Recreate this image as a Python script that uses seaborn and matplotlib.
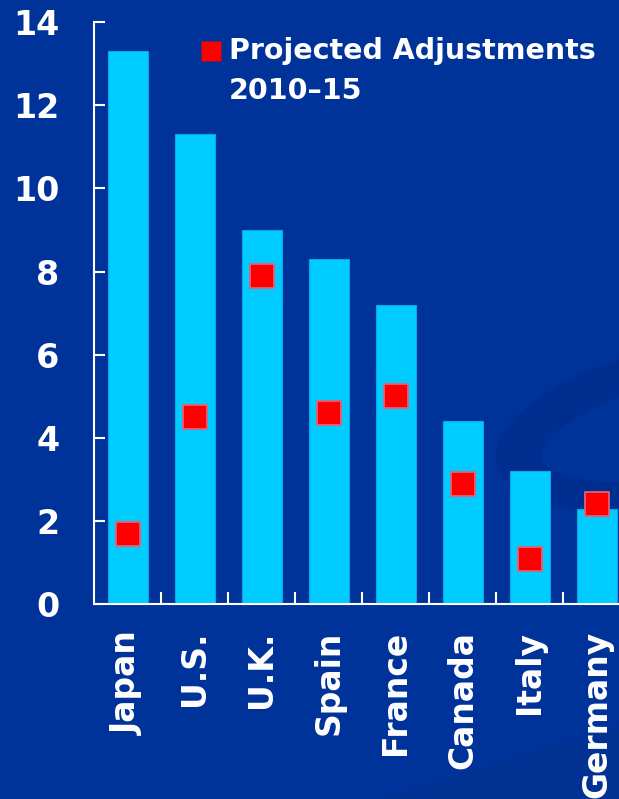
import numpy as np
import matplotlib
matplotlib.use("Agg")
import matplotlib.pyplot as plt
from matplotlib.lines import Line2D
from matplotlib.patches import Ellipse, Polygon
from matplotlib.transforms import IdentityTransform
import seaborn as sns

# Fiscal adjustment needed vs. projected adjustment, percent of GDP
countries = ["Japan", "U.S.", "U.K.", "Spain", "France", "Canada", "Italy", "Germany"]
required_adjustment = [13.3, 11.3, 9.0, 8.3, 7.2, 4.4, 3.2, 2.3]
projected_adjustments = [1.7, 4.5, 7.9, 4.6, 5.0, 2.9, 1.1, 2.4]
y_ticks = [0, 2, 4, 6, 8, 10, 12, 14]
legend_label = "Projected Adjustments\n2010–15"

BG = "#003399"
SWOOSH = "#002e90"
BAR = "#00CCFF"
BAR_EDGE = "#0aa6e6"
MARK = "#FF0000"

sns.set_theme(style="white")
plt.rcParams["font.family"] = ["DejaVu Sans"]
plt.rcParams["font.weight"] = "bold"

W, H = 619, 799
fig = plt.figure(figsize=(W / 100, H / 100), dpi=100, facecolor=BG)

# decorative background shapes (pixel coordinates, origin bottom-left)
outer = Ellipse((722, 378), 458, 172, angle=10, transform=IdentityTransform(),
                facecolor=SWOOSH, edgecolor="none", zorder=0)
inner = Ellipse((762, 388), 450, 110, angle=12, transform=IdentityTransform(),
                facecolor=BG, edgecolor="none", zorder=0)
band = Polygon([(380, 0), (619, 74), (619, 0)], closed=True, transform=IdentityTransform(),
               facecolor="#003193", edgecolor="none", zorder=0)
for p in (outer, inner, band):
    fig.add_artist(p)

ax = fig.add_axes([94.3 / W, (H - 604.3) / H, 536 / W, 582.3 / H])
ax.set_facecolor("none")
ax.set_zorder(2)

sns.barplot(x=countries, y=required_adjustment, color=BAR, saturation=1, width=0.6,
            edgecolor=BAR_EDGE, linewidth=0.8, ax=ax, zorder=2)
sns.stripplot(x=countries, y=projected_adjustments, jitter=False, marker="s", size=17.5,
              color=MARK, edgecolor="#e0607f", linewidth=1.3, ax=ax, zorder=3)

ax.set_xlim(-0.5, 7.5)
ax.set_ylim(0, 14)
ax.set_yticks(y_ticks)
ax.set_yticklabels([str(t) for t in y_ticks])
ax.set_xlabel("")
ax.set_ylabel("")

for side in ("top", "right"):
    ax.spines[side].set_visible(False)
for side in ("left", "bottom"):
    ax.spines[side].set_color("white")
    ax.spines[side].set_linewidth(1.5)

ax.tick_params(axis="y", left=True, direction="in", length=8, width=1.5, color="white",
               labelcolor="white", labelsize=24, pad=25)
ax.set_xticks(range(len(countries)))
ax.set_xticklabels(countries, rotation=90, fontsize=23.8, color="white", fontweight="bold")
ax.tick_params(axis="x", which="major", bottom=True, length=0, pad=19)
ax.set_xticks(np.arange(0.5, len(countries), 1), minor=True)
ax.tick_params(axis="x", which="minor", bottom=True, direction="in", length=8.5,
               width=1.5, color="white")
for lbl in ax.get_yticklabels():
    lbl.set_fontweight("bold")

handle = Line2D([], [], marker="s", linestyle="none", markersize=14.4,
                markerfacecolor=MARK, markeredgecolor="none")
leg = fig.legend([handle], [legend_label], loc="upper left",
                 bbox_to_anchor=(199.6 / W, (H - 37) / H), frameon=False,
                 prop=dict(size=20.5, weight="bold"), labelcolor="white",
                 handlelength=0.8, handletextpad=0.23, borderpad=0, borderaxespad=0)
leg.get_texts()[0].set_linespacing(1.55)
# keep the key square level with the first line of the label
key = leg.legend_handles[0]
key.set_ydata(np.asarray(key.get_ydata(), dtype=float) + 15.5)

fig.savefig("out.png", dpi=100, facecolor=BG)
